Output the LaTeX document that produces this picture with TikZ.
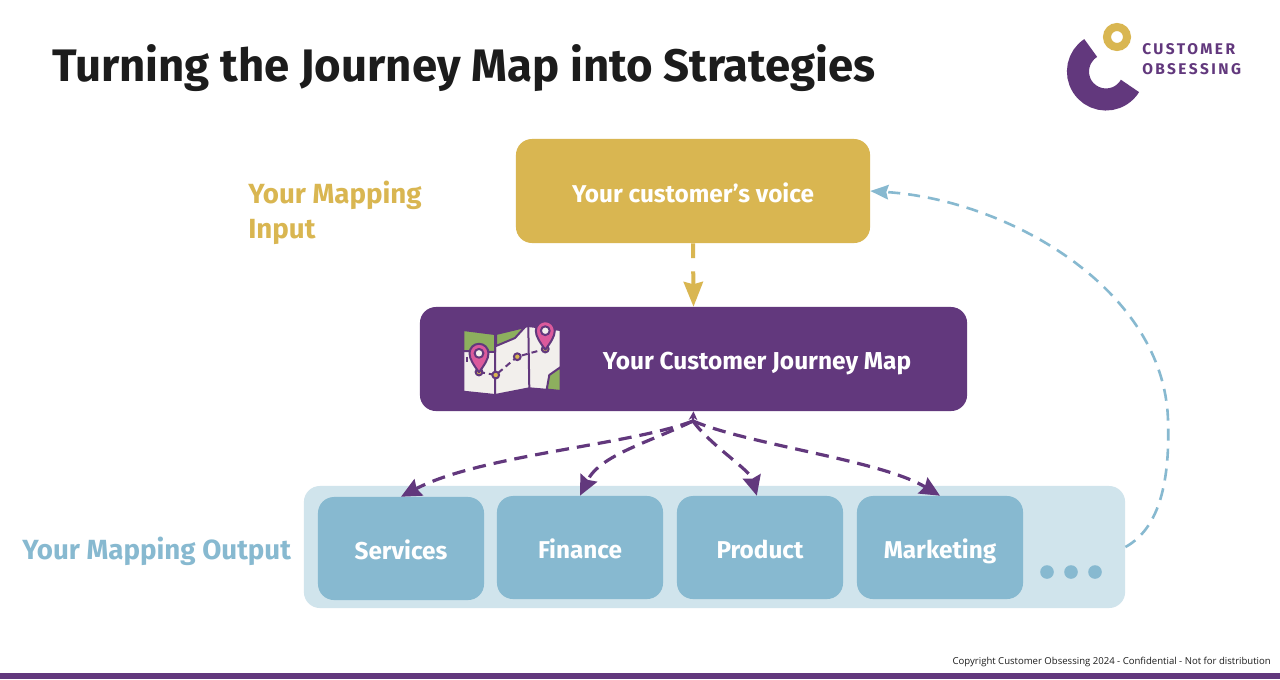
\documentclass[tikz,border=0pt]{standalone}
\usepackage{fontspec}
\setmainfont{Fira Sans}
\newfontfamily\logofont[LetterSpace=16]{Fira Sans}
\newfontfamily\footfont{Open Sans}
\usetikzlibrary{arrows.meta, positioning}
\definecolor{csgold}{HTML}{D9B651}
\definecolor{cspurple}{HTML}{62387D}
\definecolor{csblue}{HTML}{87B9D0}
\definecolor{cspale}{HTML}{D0E4EC}
\definecolor{csink}{HTML}{1C1C1C}
\definecolor{mapgreen}{HTML}{8DAF5E}
\definecolor{mappaper}{HTML}{F2EFEC}
\definecolor{mappin}{HTML}{DB5A9C}

\begin{document}
\begin{tikzpicture}[
  x=0.025cm, y=-0.025cm,
  bigbox/.style={rounded corners=0.4cm, minimum height=2.6cm, inner sep=0pt, text=white, text height=17pt, text depth=0pt, font=\fontsize{17.3}{20}\selectfont\bfseries},
  teambox/.style={fill=csblue, rounded corners=0.4cm, minimum width=4.15cm, minimum height=2.575cm, inner sep=0pt, text=white, text height=15pt, text depth=0pt, font=\fontsize{17.3}{20}\selectfont\bfseries},
  sidelabel/.style={inner sep=0pt, align=left, font=\fontsize{19.7}{25}\selectfont\bfseries},
  logotext/.style={inner sep=0pt, anchor=west, text=cspurple, font=\fontsize{11}{13}\logofont\bfseries},
  fanarrow/.style={draw=cspurple, line width=0.08cm, dash pattern=on 0.33cm off 0.2cm, -{Stealth[length=0.5cm, width=0.46cm, inset=0.06cm]}},
  mapline/.style={draw=cspurple, line width=0.05cm, line join=round}
]
  \useasboundingbox (0,0) rectangle (1280,679);
  \fill[white] (0,0) rectangle (1280,679);
  \fill[cspurple] (0,673) rectangle (1280,679);

  \node[anchor=west, inner sep=0pt, text=csink, font=\fontsize{32.4}{40}\selectfont\bfseries] (title) at (52,68) {Turning the Journey Map into Strategies};

  % logo
  \draw[cspurple, line width=0.55cm] (1090.7,48) arc[start angle=123, end angle=329, radius=0.7cm];
  \draw[csgold, line width=0.2cm] (1117,37) circle[radius=0.25cm];
  \node[logotext] (logotop) at (1142,49) {CUSTOMER};
  \node[logotext] (logobottom) at (1142,69) {OBSESSING};

  % boxes
  \node[bigbox, fill=csgold, minimum width=8.85cm] (voice) at (693,191) {Your customer’s voice};
  \node[bigbox, fill=cspurple, minimum width=13.675cm] (journey) at (693.5,359) {};
  \node[inner sep=0pt, text=white, text height=12pt, text depth=0pt, font=\fontsize{17.4}{20}\selectfont\bfseries] (journeytext) at (757,361) {Your Customer Journey Map};
  \node[fill=cspale, rounded corners=0.4cm, minimum width=20.525cm, minimum height=3.05cm, inner sep=0pt] (output) at (714.5,547) {};
  \node[teambox] (services) at (401,548.5) {Services};
  \node[teambox] (finance) at (580,547.5) {Finance};
  \node[teambox] (product) at (760,547.5) {Product};
  \node[teambox] (marketing) at (940,547.5) {Marketing};
  \foreach \dotx in {1047,1071,1095}
    \fill[csblue] (\dotx,572) circle[radius=0.17cm];

  \node[sidelabel, anchor=west, text=csgold] (inputlabel) at (248,213) {Your Mapping\\Input};
  \node[sidelabel, anchor=west, text=csblue] (outputlabel) at (22,551) {Your Mapping Output};

  % map icon
  \filldraw[mapline, fill=mappaper] (463.3,330) -- (495,334) -- (528.3,326) -- (560.7,330) -- (560.7,391) -- (529.3,388.3) -- (495,395) -- (463.3,391.7) -- cycle;
  \filldraw[mapline, fill=mapgreen] (463.3,330) -- (495,334) -- (495,352) -- (463.3,351) -- cycle;
  \filldraw[mapline, fill=mapgreen] (496,334) -- (525,327) -- (515,338) -- (496,346) -- cycle;
  \filldraw[mapline, fill=mapgreen] (546.7,389.5) -- (549.3,375) -- (560.7,367) -- (560.7,391) -- cycle;
  \draw[mapline] (495,334) -- (495,395) (528.3,326) -- (529.3,388.3);
  \draw[mapline, dash pattern=on 0.15cm off 0.1cm] (479,372) -- (495.7,375) -- (517.3,356.7) -- (545,349);
  \draw[mapline, dash pattern=on 0.12cm off 0.1cm] (466.7,356.7) -- (466.7,362);
  \foreach \dotx/\doty in {479/372, 495.7/375, 517.3/356.7, 545.3/349}
    \filldraw[mapline, fill=csgold] (\dotx,\doty) circle[radius=0.085cm];
  \foreach \pinx/\piny in {479/353.3, 545.3/330.7} {
    \filldraw[mapline, fill=mappin] (\pinx,\piny+19) .. controls (\pinx-5,\piny+12) and (\pinx-9.5,\piny+6) .. (\pinx-9.5,\piny) arc[start angle=180, end angle=0, radius=0.2375cm] .. controls (\pinx+9.5,\piny+6) and (\pinx+5,\piny+12) .. (\pinx,\piny+19) -- cycle;
    \filldraw[mapline, fill=mappaper] (\pinx,\piny) circle[radius=0.11cm];
  }

  % connectors
  \coordinate (fan) at (693,421);
  \draw[draw=csgold, line width=0.1cm, dash pattern=on 0.37cm off 0.33cm, -{Stealth[length=0.62cm, width=0.48cm, inset=0.06cm]}] (voice.south) -- (journey.north);
  \draw[draw=cspurple, -{Stealth[length=0.22cm, width=0.22cm]}, line width=0.05cm] (fan) -- (journey.south);
  \draw[fanarrow] (fan) .. controls (630,445) and (480,455) .. (services.north);
  \draw[fanarrow] (fan) .. controls (650,442) and (600,455) .. (finance.north);
  \draw[fanarrow] (fan) .. controls (710,445) and (750,470) .. ([xshift=-0.08cm]product.north);
  \draw[fanarrow] (fan) .. controls (750,445) and (880,460) .. (marketing.north);
  \draw[draw=csblue, line width=0.065cm, dash pattern=on 0.3cm off 0.2cm, -{Stealth[length=0.45cm, width=0.36cm, inset=0.05cm]}] (output.east) .. controls (1160,528) and (1170,480) .. (1168,420) .. controls (1164,290) and (1010,200) .. (voice.east);

  \node[anchor=east, inner sep=0pt, text=csink, font=\fontsize{6.8}{9}\footfont] (footer) at (1271,662) {Copyright Customer Obsessing 2024 - Confidential - Not for distribution};
\end{tikzpicture}
\end{document}
